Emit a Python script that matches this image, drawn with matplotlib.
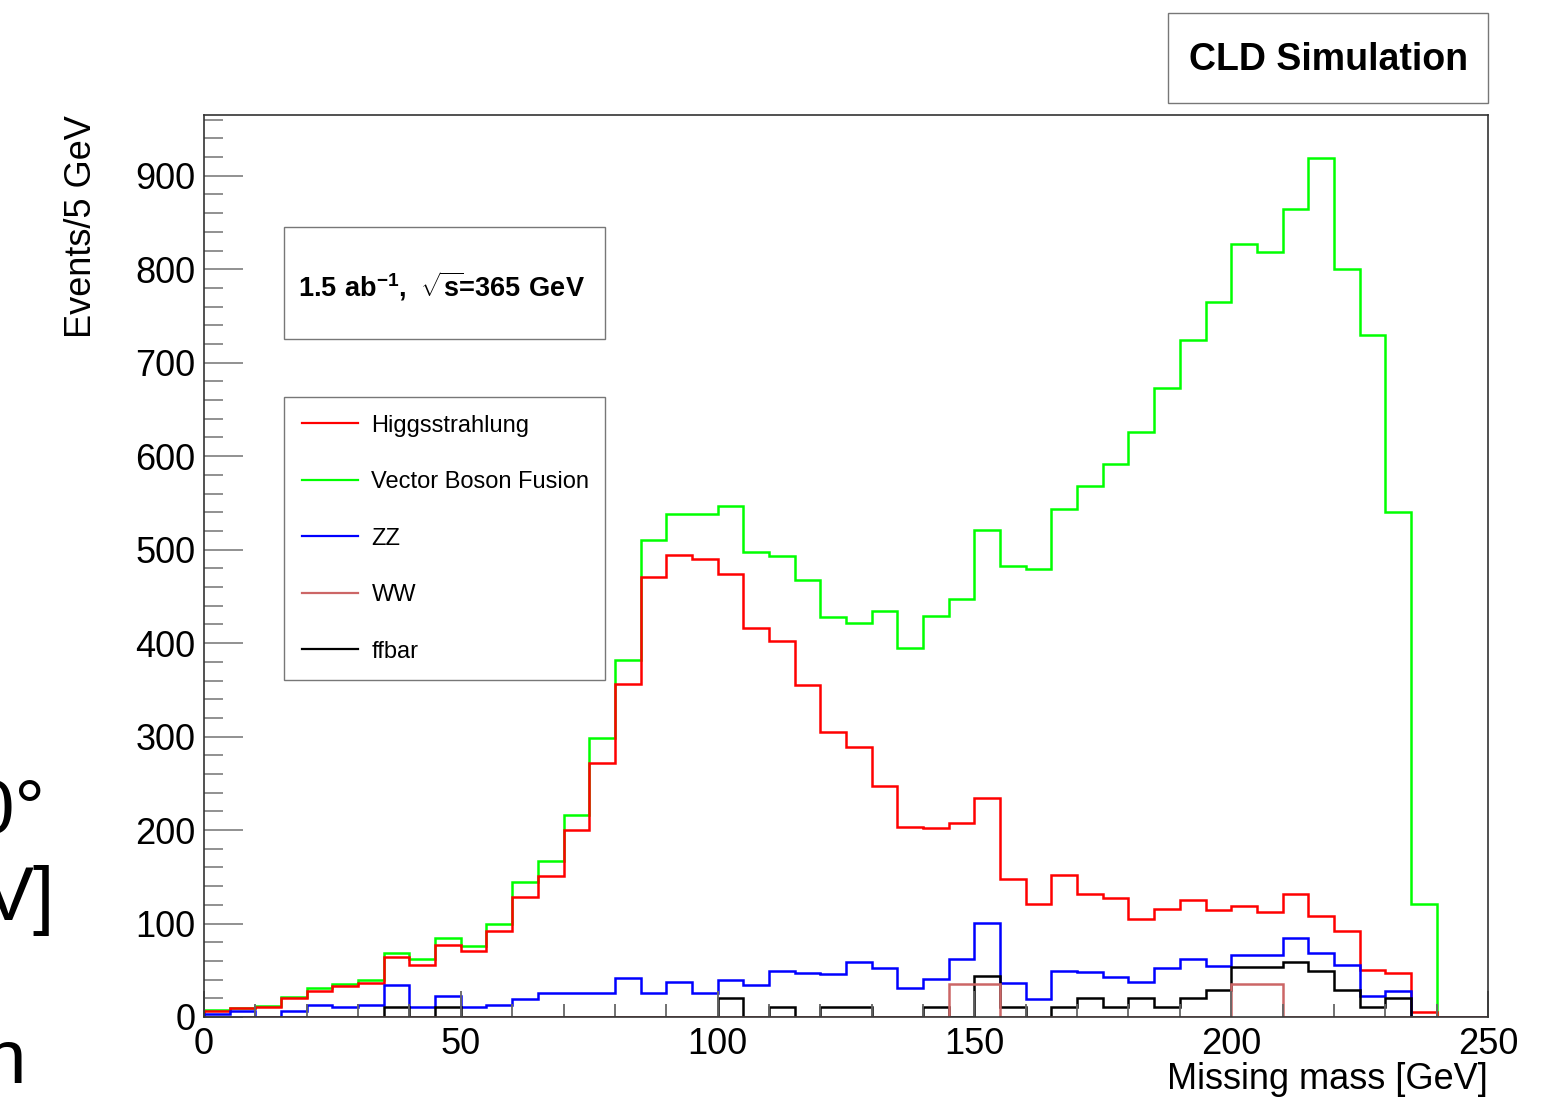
import matplotlib
matplotlib.use("Agg")
import matplotlib.pyplot as plt
from matplotlib.lines import Line2D
from matplotlib.patches import Rectangle
from matplotlib.ticker import MultipleLocator
import numpy as np

plt.rcParams['font.family'] = ['Liberation Sans', 'DejaVu Sans']
plt.rcParams['mathtext.fontset'] = 'custom'
plt.rcParams['mathtext.rm'] = 'Liberation Sans'
plt.rcParams['mathtext.bf'] = 'Liberation Sans:bold'

# missing mass histograms, 5 GeV bins from 0 to 250
edges = np.arange(0, 255, 5)

higgsstrahlung = [6, 10, 11, 20, 28, 33, 36, 64, 56, 77,
                  71, 92, 128, 151, 200, 272, 356, 471, 494, 490,
                  474, 416, 402, 355, 305, 289, 247, 203, 202, 208,
                  234, 148, 121, 152, 132, 127, 105, 116, 125, 114,
                  119, 112, 132, 108, 92, 50, 47, 5, 0, 0]
vbf = [7, 10, 12, 21, 31, 35, 40, 69, 62, 84,
       76, 99, 144, 167, 216, 298, 382, 510, 538, 538,
       547, 497, 493, 468, 428, 422, 434, 395, 429, 447,
       521, 482, 479, 543, 568, 592, 626, 673, 724, 765,
       827, 818, 864, 919, 800, 730, 540, 121, 0, 0]
zz = [3, 6, 0, 6, 13, 11, 13, 34, 11, 23,
      11, 13, 19, 26, 26, 26, 42, 26, 37, 26,
      40, 34, 49, 47, 46, 59, 52, 31, 41, 62,
      101, 36, 19, 49, 48, 43, 37, 52, 62, 55,
      66, 66, 84, 69, 56, 23, 28, 0, 0, 0]
ww = [0, 0, 0, 0, 0, 0, 0, 0, 0, 0,
      0, 0, 0, 0, 0, 0, 0, 0, 0, 0,
      0, 0, 0, 0, 0, 0, 0, 0, 0, 35,
      35, 0, 0, 0, 0, 0, 0, 0, 0, 0,
      35, 35, 0, 0, 0, 0, 0, 0, 0, 0]
ffbar = [0, 0, 0, 0, 0, 0, 0, 11, 0, 11,
         0, 0, 0, 0, 0, 0, 0, 0, 0, 0,
         20, 0, 11, 0, 11, 11, 0, 0, 11, 0,
         44, 11, 0, 11, 20, 11, 20, 11, 20, 29,
         53, 53, 59, 49, 29, 11, 20, 0, 0, 0]

labels = ["Higgsstrahlung", "Vector Boson Fusion", "ZZ", "WW", "ffbar"]
colors = ["#ff0000", "#00ff00", "#0000ff", "#cc6666", "#000000"]

W, H = 1560, 1097
fig = plt.figure(figsize=(W / 100, H / 100), dpi=100)
ax = fig.add_axes([204 / W, 1 - 1017 / H, 1284 / W, (1017 - 115) / H])

lw = 1.8
ax.stairs(vbf, edges, color=colors[1], lw=lw)
ax.stairs(higgsstrahlung, edges, color=colors[0], lw=lw)
ax.stairs(zz, edges, color=colors[2], lw=lw)
ax.stairs(ffbar, edges, color=colors[4], lw=lw)
ax.stairs(ww, edges, color=colors[3], lw=lw)

ax.set_xlim(0, 250)
ax.set_ylim(0, 965)
ax.xaxis.set_major_locator(MultipleLocator(50))
ax.xaxis.set_minor_locator(MultipleLocator(10))
ax.yaxis.set_major_locator(MultipleLocator(100))
ax.yaxis.set_minor_locator(MultipleLocator(20))

for s in ax.spines.values():
    s.set_color('#333333')
    s.set_linewidth(1.2)

ax.tick_params(axis='y', which='major', direction='in', length=28, width=1.3,
               color='#888888', labelsize=26, pad=6)
ax.tick_params(axis='y', which='minor', direction='in', length=14, width=1.3,
               color='#888888')
ax.tick_params(axis='x', which='major', direction='in', length=19, width=1.3,
               color='#666666', labelsize=26, pad=7)
ax.tick_params(axis='x', which='minor', direction='in', length=9.5, width=1.3,
               color='#666666')

ax.set_ylabel("Events/5 GeV", fontsize=26, loc='top')
ax.yaxis.set_label_coords(-0.0814, 1.0)
ax.set_xlabel("Missing mass [GeV]", fontsize=26, loc='right')
ax.xaxis.set_label_coords(1.0, -0.05)

# legend
handles = [Line2D([], [], color=c, lw=1.6) for c in colors]
leg = ax.legend(handles, labels, loc='upper left',
                bbox_to_anchor=(284.3 / W, 1 - 396.7 / H, 320.7 / W, 0),
                bbox_transform=fig.transFigure, mode='expand',
                borderaxespad=0, fontsize=17, labelspacing=1.46,
                borderpad=0.76, handlelength=2.37, handletextpad=0.56,
                fancybox=False, framealpha=1, edgecolor='#777777')
leg.get_frame().set_linewidth(1.0)

# text boxes
def box(x0, y0, x1, y1):
    fig.patches.append(Rectangle((x0 / W, 1 - y1 / H), (x1 - x0) / W, (y1 - y0) / H,
                                 transform=fig.transFigure, fill=False,
                                 edgecolor='#777777', lw=1.0))

box(1167.7, 13.3, 1488, 103.3)
fig.text(1329 / W, 1 - 60 / H, "CLD Simulation", fontsize=27, fontweight='bold',
         ha='center', va='center')

box(284.3, 226.7, 605, 339)
fig.text(298 / W, 1 - 286 / H,
         r"$\mathbf{1.5\ ab^{-1},\ \sqrt{s}\!\!=\!365\ GeV}$",
         fontsize=19.5, ha='left', va='center')

# clipped slide text at the left edge
fig.text(45 / W, 1 - 833 / H, "0°", fontsize=55, ha='right', va='baseline')
fig.text(55 / W, 1 - 920 / H, "V]", fontsize=55, ha='right', va='baseline')
fig.text(26 / W, 1 - 1083 / H, "n", fontsize=55, ha='right', va='baseline')

fig.savefig("out.png", dpi=100)
